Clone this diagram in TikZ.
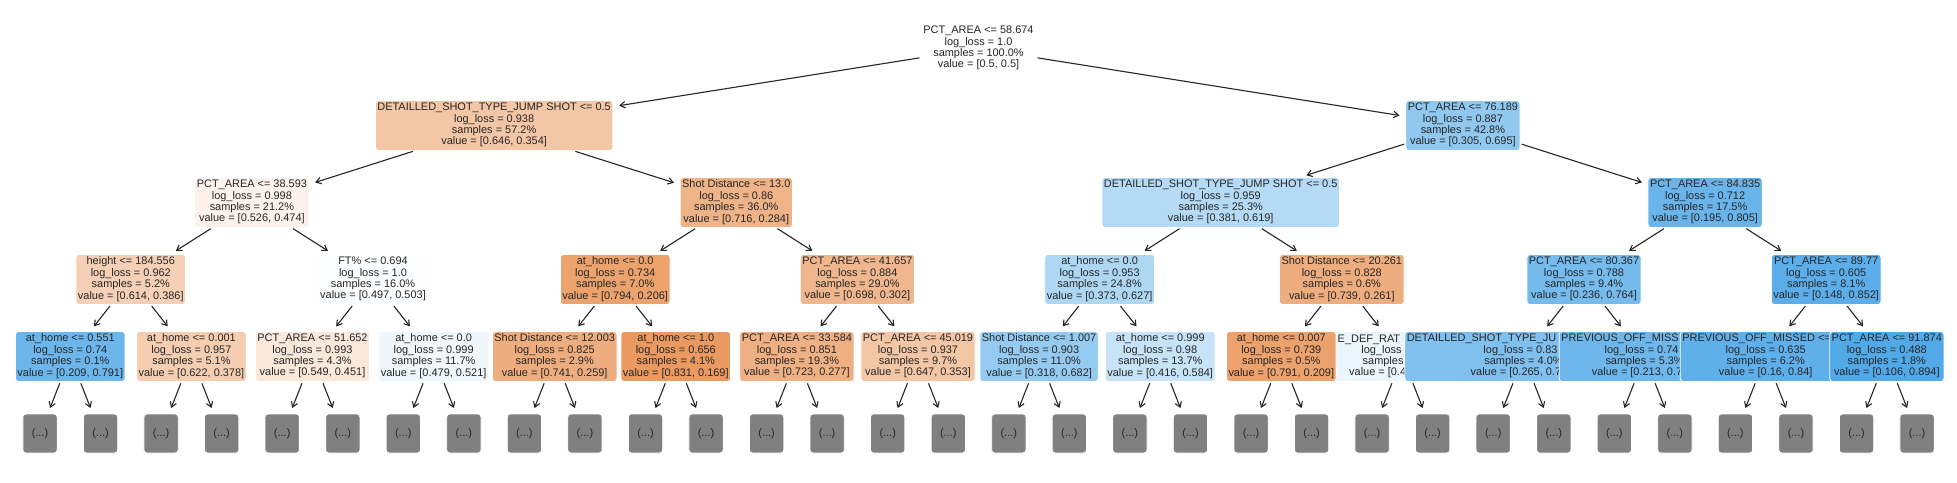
\documentclass[tikz,border=0pt]{standalone}
\usepackage{fontspec}
\newfontfamily\treefont{Liberation Sans}
\usetikzlibrary{arrows.meta}
\definecolor{ora}{RGB}{229,129,57}
\definecolor{blu}{RGB}{57,157,229}
\definecolor{txt}{RGB}{38,38,38}
\definecolor{leafgray}{RGB}{128,128,128}
\newcommand\nodetxt[4]{\strut#1\\#2\\#3\\#4\strut}
\newcommand\treesize{\treefont\fontsize{10.95}{11.1}\selectfont}
\begin{document}
\begin{tikzpicture}[x=1pt,y=-1pt,
  tnode/.style={rectangle, rounded corners=3pt, draw=white, line width=0.8pt, fill=#1,
    inner xsep=2pt, inner ysep=0pt, minimum height=50pt, align=center, text=txt, font=\treesize},
  leafbox/.style={rectangle, rounded corners=3pt, draw=white, line width=0.8pt, fill=leafgray,
    minimum width=34.3pt, minimum height=39pt, inner sep=0pt, text=txt, font=\treesize},
  linetext/.style={inner sep=0pt, anchor=base west, text=txt, font=\treesize},
  treearrow/.style={draw=txt, line width=1.1pt, -{Straight Barb[length=5pt,width=6.5pt]},
    shorten <=1.5pt, shorten >=6pt}
]
\fill[white] (0,0) rectangle (1957,482);
\useasboundingbox (0,0) rectangle (1957,482);

% level 0
\node[tnode=white] (r) at (978.5,48.5) {\nodetxt{PCT\_AREA <= 58.674}{log\_loss = 1.0}{samples = 100.0\%}{value = [0.5, 0.5]}};

% level 1
\node[tnode=ora!45!white] (a0) at (494.1,125.5) {\nodetxt{DETAILLED\_SHOT\_TYPE\_JUMP SHOT <= 0.5}{log\_loss = 0.938}{samples = 57.2\%}{value = [0.646, 0.354]}};
\node[tnode=blu!56!white] (a1) at (1462.9,125.5) {\nodetxt{PCT\_AREA <= 76.189}{log\_loss = 0.887}{samples = 42.8\%}{value = [0.305, 0.695]}};

% level 2
\node[tnode=ora!10!white] (b0) at (251.9,202.5) {\nodetxt{PCT\_AREA <= 38.593}{log\_loss = 0.998}{samples = 21.2\%}{value = [0.526, 0.474]}};
\node[tnode=ora!60!white] (b1) at (736.3,202.5) {\nodetxt{Shot Distance <= 13.0}{log\_loss = 0.86}{samples = 36.0\%}{value = [0.716, 0.284]}};
\node[tnode=blu!38!white] (b2) at (1220.7,202.5) {\nodetxt{DETAILLED\_SHOT\_TYPE\_JUMP SHOT <= 0.5}{log\_loss = 0.959}{samples = 25.3\%}{value = [0.381, 0.619]}};
\node[tnode=blu!76!white] (b3) at (1705.1,202.5) {\nodetxt{PCT\_AREA <= 84.835}{log\_loss = 0.712}{samples = 17.5\%}{value = [0.195, 0.805]}};

% level 3
\node[tnode=ora!37!white] (c0) at (130.8,279.5) {\nodetxt{height <= 184.556}{log\_loss = 0.962}{samples = 5.2\%}{value = [0.614, 0.386]}};
\node[tnode=blu!1!white] (c1) at (373.0,279.5) {\nodetxt{FT\% <= 0.694}{log\_loss = 1.0}{samples = 16.0\%}{value = [0.497, 0.503]}};
\node[tnode=ora!74!white] (c2) at (615.2,279.5) {\nodetxt{at\_home <= 0.0}{log\_loss = 0.734}{samples = 7.0\%}{value = [0.794, 0.206]}};
\node[tnode=ora!57!white] (c3) at (857.4,279.5) {\nodetxt{PCT\_AREA <= 41.657}{log\_loss = 0.884}{samples = 29.0\%}{value = [0.698, 0.302]}};
\node[tnode=blu!41!white] (c4) at (1099.6,279.5) {\nodetxt{at\_home <= 0.0}{log\_loss = 0.953}{samples = 24.8\%}{value = [0.373, 0.627]}};
\node[tnode=ora!65!white] (c5) at (1341.8,279.5) {\nodetxt{Shot Distance <= 20.261}{log\_loss = 0.828}{samples = 0.6\%}{value = [0.739, 0.261]}};
\node[tnode=blu!69!white] (c6) at (1584.0,279.5) {\nodetxt{PCT\_AREA <= 80.367}{log\_loss = 0.788}{samples = 9.4\%}{value = [0.236, 0.764]}};
\node[tnode=blu!83!white] (c7) at (1826.2,279.5) {\nodetxt{PCT\_AREA <= 89.77}{log\_loss = 0.605}{samples = 8.1\%}{value = [0.148, 0.852]}};

% level 4
\node[tnode=blu!74!white] (d0) at (70.3,356.5) {\nodetxt{at\_home <= 0.551}{log\_loss = 0.74}{samples = 0.1\%}{value = [0.209, 0.791]}};
\node[tnode=ora!39!white] (d1) at (191.4,356.5) {\nodetxt{at\_home <= 0.001}{log\_loss = 0.957}{samples = 5.1\%}{value = [0.622, 0.378]}};
\node[tnode=ora!18!white] (d2) at (312.5,356.5) {\nodetxt{PCT\_AREA <= 51.652}{log\_loss = 0.993}{samples = 4.3\%}{value = [0.549, 0.451]}};
\node[tnode=blu!8!white] (d3) at (433.6,356.5) {\nodetxt{at\_home <= 0.0}{log\_loss = 0.999}{samples = 11.7\%}{value = [0.479, 0.521]}};
\node[tnode=ora!65!white] (d4) at (554.7,356.5) {\nodetxt{Shot Distance <= 12.003}{log\_loss = 0.825}{samples = 2.9\%}{value = [0.741, 0.259]}};
\node[tnode=ora!80!white] (d5) at (675.8,356.5) {\nodetxt{at\_home <= 1.0}{log\_loss = 0.656}{samples = 4.1\%}{value = [0.831, 0.169]}};
\node[tnode=ora!62!white] (d6) at (796.9,356.5) {\nodetxt{PCT\_AREA <= 33.584}{log\_loss = 0.851}{samples = 19.3\%}{value = [0.723, 0.277]}};
\node[tnode=ora!45!white] (d7) at (918.0,356.5) {\nodetxt{PCT\_AREA <= 45.019}{log\_loss = 0.937}{samples = 9.7\%}{value = [0.647, 0.353]}};
\node[tnode=blu!53!white] (d8) at (1039.1,356.5) {\nodetxt{Shot Distance <= 1.007}{log\_loss = 0.903}{samples = 11.0\%}{value = [0.318, 0.682]}};
\node[tnode=blu!29!white] (d9) at (1160.2,356.5) {\nodetxt{at\_home <= 0.999}{log\_loss = 0.98}{samples = 13.7\%}{value = [0.416, 0.584]}};
% partly hidden node (drawn before its neighbours)
\node[tnode=blu!10!white, minimum width=150pt] (d11) at (1402.4,356.5) {};
\node[linetext] (d11a) at (1337.5,342.1) {E\_DEF\_RAT};
\node[linetext] (d11b) at (1361.2,353.2) {log\_loss};
\node[linetext] (d11c) at (1362.5,364.3) {samples};
\node[linetext] (d11d) at (1349.0,375.4) {value = [0.4};
\node[tnode=ora!74!white] (d10) at (1281.3,356.5) {\nodetxt{at\_home <= 0.007}{log\_loss = 0.739}{samples = 0.5\%}{value = [0.791, 0.209]}};
\node[tnode=blu!64!white] (d12) at (1523.5,356.5) {\nodetxt{DETAILLED\_SHOT\_TYPE\_JU\phantom{MP SHOT <= 0.5}}{log\_loss = 0.83\phantom{0}}{samples = 4.0\%}{value = [0.265, 0.7\phantom{35]}}};
\node[tnode=blu!73!white] (d13) at (1644.6,356.5) {\nodetxt{PREVIOUS\_OFF\_MISS\phantom{ED <= 0.5}}{log\_loss = 0.74\phantom{0}}{samples = 5.3\%}{value = [0.213, 0.7\phantom{87]}}};
\node[tnode=blu!81!white] (d14) at (1765.7,356.5) {\nodetxt{PREVIOUS\_OFF\_MISSED <=\phantom{\ 0.5}}{log\_loss = 0.635}{samples = 6.2\%}{value = [0.16, 0.84]}};
\node[tnode=blu!88!white] (d15) at (1886.8,356.5) {\nodetxt{PCT\_AREA <= 91.874}{log\_loss = 0.488}{samples = 1.8\%}{value = [0.106, 0.894]}};

% level 5 (truncated)
\foreach \k in {0,...,31}
  \node[leafbox] (e\k) at ({40+60.55*\k},433.5) {(...)};

% connectors
\draw[treearrow] (r) -- (a0);
\draw[treearrow] (r) -- (a1);
\foreach \p/\ca/\cb in {a0/b0/b1, a1/b2/b3,
    b0/c0/c1, b1/c2/c3, b2/c4/c5, b3/c6/c7,
    c0/d0/d1, c1/d2/d3, c2/d4/d5, c3/d6/d7, c4/d8/d9, c5/d10/d11, c6/d12/d13, c7/d14/d15}
  {\draw[treearrow] (\p) -- (\ca); \draw[treearrow] (\p) -- (\cb);}
\foreach \i in {0,...,15} {
  \pgfmathtruncatemacro\lk{2*\i}
  \pgfmathtruncatemacro\rk{2*\i+1}
  \draw[treearrow] (d\i) -- (e\lk);
  \draw[treearrow] (d\i) -- (e\rk);
}
\end{tikzpicture}
\end{document}
